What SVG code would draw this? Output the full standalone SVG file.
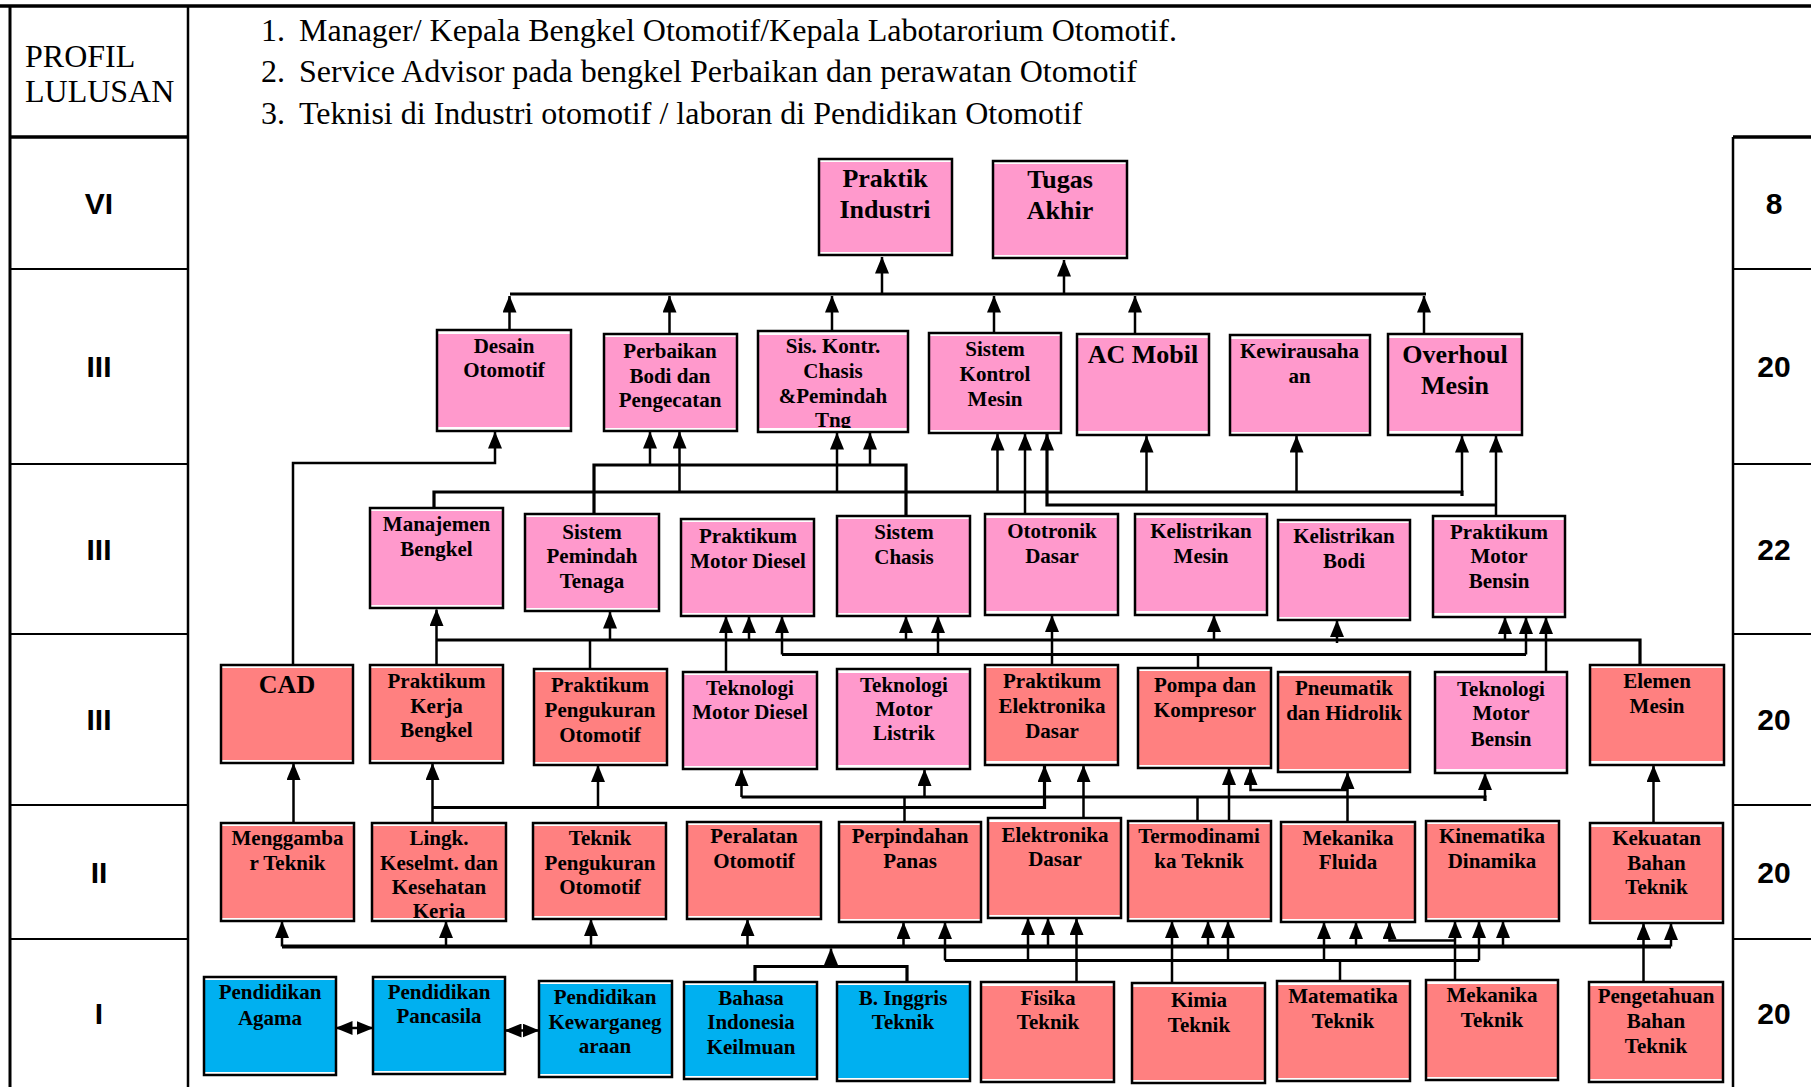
<svg xmlns="http://www.w3.org/2000/svg" width="1811" height="1087" viewBox="0 0 1811 1087">
<defs>
<style>
.tbl{stroke:#000;fill:none}
.prof{font-family:"Liberation Serif","Times New Roman",serif;font-size:32px;fill:#000}
.row{font-family:"Liberation Sans",Arial,sans-serif;font-weight:bold;font-size:30px;text-anchor:middle;fill:#000}
.n text{font-family:"Liberation Serif","Times New Roman",serif;font-weight:bold;font-size:21px;text-anchor:middle;fill:#000}
.n text.big{font-size:26px}
.n rect{stroke:#000;stroke-width:2.5}
.pink{fill:url(#gPink)}
.sal{fill:url(#gSal)}
.blue{fill:url(#gBlue)}
.c path{stroke:#000;stroke-width:2.5;fill:none}
.c path.a{marker-end:url(#ah)}
.c path.d{marker-start:url(#ah);marker-end:url(#ah)}
.c path.bus{stroke-width:3.2}
</style>
<linearGradient id="gPink" x1="0" y1="0" x2="0" y2="1">
<stop offset="0" stop-color="#fff"/><stop offset="0.035" stop-color="#fff"/><stop offset="0.035" stop-color="#FF99CC"/><stop offset="0.965" stop-color="#FF99CC"/><stop offset="0.965" stop-color="#fff"/><stop offset="1" stop-color="#fff"/>
</linearGradient>
<linearGradient id="gSal" x1="0" y1="0" x2="0" y2="1">
<stop offset="0" stop-color="#fff"/><stop offset="0.035" stop-color="#fff"/><stop offset="0.035" stop-color="#FF8080"/><stop offset="0.965" stop-color="#FF8080"/><stop offset="0.965" stop-color="#fff"/><stop offset="1" stop-color="#fff"/>
</linearGradient>
<linearGradient id="gBlue" x1="0" y1="0" x2="0" y2="1">
<stop offset="0" stop-color="#fff"/><stop offset="0.035" stop-color="#fff"/><stop offset="0.035" stop-color="#00B0F0"/><stop offset="0.965" stop-color="#00B0F0"/><stop offset="0.965" stop-color="#fff"/><stop offset="1" stop-color="#fff"/>
</linearGradient>
<marker id="ah" markerUnits="userSpaceOnUse" markerWidth="17" markerHeight="14" refX="16.5" refY="7" orient="auto-start-reverse">
<path d="M0,0 L17,7 L0,14 z" fill="#000"/>
</marker>
<clipPath id="clipSK"><rect x="758" y="331" width="150" height="97"/></clipPath>
<clipPath id="clipLK"><rect x="372" y="823" width="134" height="95"/></clipPath>
</defs>
<rect x="0" y="0" width="1811" height="1087" fill="#fff"/>

<g id="table">
<path class="tbl" stroke-width="3.5" d="M0,6 H1811"/>
<path class="tbl" stroke-width="3" d="M10,6 V1087"/>
<path class="tbl" stroke-width="2.5" d="M188,6 V1087"/>
<path class="tbl" stroke-width="2.5" d="M1733,137 V1087"/>
<path class="tbl" stroke-width="3.5" d="M10,137 H188 M1733,137 H1811"/>
<path class="tbl" stroke-width="2" d="M10,269 H188 M10,464 H188 M10,634 H188 M10,805 H188 M10,939 H188 M1733,269 H1811 M1733,464 H1811 M1733,634 H1811 M1733,805 H1811 M1733,939 H1811"/>
<text class="prof" x="25" y="67">PROFIL</text>
<text class="prof" x="25" y="102">LULUSAN</text>
<text class="prof" x="261" y="41">1.</text>
<text class="prof" x="299" y="41">Manager/ Kepala Bengkel Otomotif/Kepala Labotarorium Otomotif.</text>
<text class="prof" x="261" y="82">2.</text>
<text class="prof" x="299" y="82">Service Advisor pada bengkel Perbaikan dan perawatan Otomotif</text>
<text class="prof" x="261" y="124">3.</text>
<text class="prof" x="299" y="124">Teknisi di Industri otomotif / laboran di Pendidikan Otomotif</text>
<text class="row" x="99" y="214">VI</text>
<text class="row" x="99" y="377">III</text>
<text class="row" x="99" y="560">III</text>
<text class="row" x="99" y="730">III</text>
<text class="row" x="99" y="883">II</text>
<text class="row" x="99" y="1024">I</text>
<text class="row" x="1774" y="214">8</text>
<text class="row" x="1774" y="377">20</text>
<text class="row" x="1774" y="560">22</text>
<text class="row" x="1774" y="730">20</text>
<text class="row" x="1774" y="883">20</text>
<text class="row" x="1774" y="1024">20</text>
</g>

<g id="connectors" class="c">
<path class="bus" d="M510,294 H1426"/>
<path class="a" d="M882,294 V257"/>
<path class="a" d="M1064,294 V260"/>
<path class="a" d="M509.5,330 V296"/>
<path class="a" d="M669.5,334 V296"/>
<path class="a" d="M832,331 V296"/>
<path class="a" d="M994,333 V296"/>
<path class="a" d="M1135,334 V296"/>
<path class="a" d="M1424,334 V296"/>

<path class="a" d="M293,665 V463 H495 V432"/>
<path class="bus" d="M594,514 V465 H906 V516"/>
<path class="a" d="M650,465 V432"/>
<path class="a" d="M870,465 V433"/>
<path class="bus" d="M434,508 V492 H1462 V496"/>
<path class="a" d="M679.5,492 V432"/>
<path class="a" d="M837,492 V433"/>
<path class="a" d="M997.5,492 V434"/>
<path class="a" d="M1146.5,492 V436"/>
<path class="a" d="M1296.5,492 V436"/>
<path class="a" d="M1462,492 V436"/>
<path class="a" d="M1025,514 V434"/>
<path class="a" d="M1496,516 V436"/>
<path class="a bus" d="M1496,505 H1047 V434"/>

<path class="a" d="M436.5,665 V609.5"/>
<path class="bus" d="M436.5,640 H1640 V665"/>
<path d="M590,669 V640"/>
<path class="a" d="M610,640 V612"/>
<path class="a" d="M749,640 V616.5"/>
<path class="a" d="M906,640 V616.5"/>
<path class="a" d="M1214,640 V615.5"/>
<path class="a" d="M1337,643 V620.5"/>
<path class="a" d="M1505,640 V617.5"/>
<path class="a" d="M726,672 V616.5"/>
<path class="a" d="M1052,665 V615.5"/>
<path class="a" d="M1546,672 V617.5"/>
<path class="bus" d="M782,654.5 H1526"/>
<path d="M1198,668 V654.5"/>
<path class="a" d="M782,654.5 V616.5"/>
<path class="a" d="M938,654.5 V616.5"/>
<path class="a" d="M1526,654.5 V617.5"/>

<path class="a" d="M293.5,823 V763.5"/>
<path class="a" d="M432.5,823 V763.5"/>
<path class="a bus" d="M432.5,807.5 H1044.5 V765.5"/>
<path class="a" d="M598,807.5 V765.5"/>
<path class="bus" d="M741.5,797 H1485 V801"/>
<path class="a" d="M741.5,797 V769.5"/>
<path class="a" d="M924.5,797 V769.5"/>
<path class="a" d="M1485,797 V773.5"/>
<path d="M904.5,822 V797"/>
<path d="M1197.5,821 V797"/>
<path class="a" d="M1083.5,818 V765.5"/>
<path class="a" d="M1229,821 V768.5"/>
<path class="a" d="M1347.5,822 V772.5"/>
<path class="a" d="M1347.5,790 H1250.5 V768.5"/>
<path class="a" d="M1653.5,823 V765.5"/>

<path class="bus" d="M282,946.5 H1671" style="stroke-width:3.8"/>
<path class="a" d="M282,946.5 V921.5"/>
<path class="a" d="M446,946.5 V921.5"/>
<path class="a" d="M591,946.5 V919.5"/>
<path class="a" d="M747.5,946.5 V919.5"/>
<path class="a" d="M903.5,946.5 V922.5"/>
<path class="a" d="M1048,946.5 V918.5"/>
<path class="a" d="M1208,946.5 V921.5"/>
<path class="a" d="M1356,946.5 V922.5"/>
<path class="a" d="M1503,946.5 V921.5"/>
<path class="a" d="M1671,946.5 V923.5"/>
<path class="bus" d="M755,982 V966.5 H907 V982"/>
<path class="a" d="M831,966.5 V948.5"/>
<path class="bus" d="M945,960.5 H1479"/>
<path class="a" d="M945,960.5 V922.5"/>
<path class="a" d="M1028,960.5 V918.5"/>
<path class="a" d="M1228,960.5 V921.5"/>
<path class="a" d="M1324,960.5 V922.5"/>
<path class="a" d="M1479,960.5 V921.5"/>
<path d="M1340,981 V960.5"/>
<path class="a" d="M1076.5,982 V918.5"/>
<path class="a" d="M1172,983 V921.5"/>
<path class="a" d="M1455,980 V921.5"/>
<path class="a" d="M1455,940.5 H1389.5 V922.5"/>
<path class="a" d="M1643.5,982 V923.5"/>
<path class="d" d="M336,1028 H373"/>
<path class="d" d="M505,1030.5 H539"/>
</g>

<g id="n-praktik-industri" class="n"><rect class="pink" x="819" y="159" width="133" height="96"/><text class="big"><tspan x="885" y="187">Praktik</tspan><tspan x="885" y="218">Industri</tspan></text></g>
<g id="n-tugas-akhir" class="n"><rect class="pink" x="993" y="161" width="134" height="97"/><text class="big"><tspan x="1060" y="188">Tugas</tspan><tspan x="1060" y="219">Akhir</tspan></text></g>

<g id="n-desain-otomotif" class="n"><rect class="pink" x="437" y="330" width="134" height="101"/><text><tspan x="504" y="353">Desain</tspan><tspan x="504" y="377">Otomotif</tspan></text></g>
<g id="n-perbaikan-bodi" class="n"><rect class="pink" x="604" y="334" width="133" height="97"/><text><tspan x="670" y="358">Perbaikan</tspan><tspan x="670" y="383">Bodi dan</tspan><tspan x="670" y="407">Pengecatan</tspan></text></g>
<g id="n-sis-kontr-chasis" class="n"><rect class="pink" x="758" y="331" width="150" height="101"/><text clip-path="url(#clipSK)"><tspan x="833" y="353">Sis. Kontr.</tspan><tspan x="833" y="378">Chasis</tspan><tspan x="833" y="403">&amp;Pemindah</tspan><tspan x="833" y="427">Tng</tspan></text></g>
<g id="n-sistem-kontrol-mesin" class="n"><rect class="pink" x="929" y="333" width="132" height="100"/><text><tspan x="995" y="356">Sistem</tspan><tspan x="995" y="381">Kontrol</tspan><tspan x="995" y="406">Mesin</tspan></text></g>
<g id="n-ac-mobil" class="n"><rect class="pink" x="1077" y="334" width="132" height="101"/><text class="big"><tspan x="1143" y="363">AC Mobil</tspan></text></g>
<g id="n-kewirausahaan" class="n"><rect class="pink" x="1230" y="335" width="140" height="100"/><text><tspan x="1299.5" y="358">Kewirausaha</tspan><tspan x="1299.5" y="383">an</tspan></text></g>
<g id="n-overhoul-mesin" class="n"><rect class="pink" x="1388" y="334" width="134" height="101"/><text class="big"><tspan x="1455" y="363">Overhoul</tspan><tspan x="1455" y="394">Mesin</tspan></text></g>

<g id="n-manajemen-bengkel" class="n"><rect class="pink" x="370" y="508" width="133" height="100"/><text><tspan x="436.5" y="531">Manajemen</tspan><tspan x="436.5" y="556">Bengkel</tspan></text></g>
<g id="n-sistem-pemindah-tenaga" class="n"><rect class="pink" x="525" y="514" width="134" height="97"/><text><tspan x="592" y="539">Sistem</tspan><tspan x="592" y="563">Pemindah</tspan><tspan x="592" y="588">Tenaga</tspan></text></g>
<g id="n-praktikum-motor-diesel" class="n"><rect class="pink" x="681" y="519" width="133" height="97"/><text><tspan x="748" y="543">Praktikum</tspan><tspan x="748" y="568">Motor Diesel</tspan></text></g>
<g id="n-sistem-chasis" class="n"><rect class="pink" x="837" y="516" width="133" height="100"/><text><tspan x="904" y="539">Sistem</tspan><tspan x="904" y="564">Chasis</tspan></text></g>
<g id="n-ototronik-dasar" class="n"><rect class="pink" x="985" y="514" width="133" height="101"/><text><tspan x="1052" y="538">Ototronik</tspan><tspan x="1052" y="563">Dasar</tspan></text></g>
<g id="n-kelistrikan-mesin" class="n"><rect class="pink" x="1135" y="514" width="132" height="101"/><text><tspan x="1201" y="538">Kelistrikan</tspan><tspan x="1201" y="563">Mesin</tspan></text></g>
<g id="n-kelistrikan-bodi" class="n"><rect class="pink" x="1278" y="520" width="132" height="100"/><text><tspan x="1344" y="543">Kelistrikan</tspan><tspan x="1344" y="568">Bodi</tspan></text></g>
<g id="n-praktikum-motor-bensin" class="n"><rect class="pink" x="1433" y="516" width="132" height="101"/><text><tspan x="1499" y="539">Praktikum</tspan><tspan x="1499" y="563">Motor</tspan><tspan x="1499" y="588">Bensin</tspan></text></g>

<g id="n-cad" class="n"><rect class="sal" x="221" y="665" width="132" height="98"/><text class="big"><tspan x="287" y="693">CAD</tspan></text></g>
<g id="n-praktikum-kerja-bengkel" class="n"><rect class="sal" x="370" y="665" width="133" height="98"/><text><tspan x="436.5" y="688">Praktikum</tspan><tspan x="436.5" y="713">Kerja</tspan><tspan x="436.5" y="737">Bengkel</tspan></text></g>
<g id="n-praktikum-pengukuran-otomotif" class="n"><rect class="sal" x="534" y="669" width="133" height="96"/><text><tspan x="600" y="692">Praktikum</tspan><tspan x="600" y="717">Pengukuran</tspan><tspan x="600" y="742">Otomotif</tspan></text></g>
<g id="n-teknologi-motor-diesel" class="n"><rect class="pink" x="683" y="672" width="134" height="97"/><text><tspan x="750" y="695">Teknologi</tspan><tspan x="750" y="719">Motor Diesel</tspan></text></g>
<g id="n-teknologi-motor-listrik" class="n"><rect class="pink" x="837" y="669" width="133" height="100"/><text><tspan x="904" y="692">Teknologi</tspan><tspan x="904" y="716">Motor</tspan><tspan x="904" y="740">Listrik</tspan></text></g>
<g id="n-praktikum-elektronika-dasar" class="n"><rect class="sal" x="985" y="665" width="133" height="100"/><text><tspan x="1052" y="688">Praktikum</tspan><tspan x="1052" y="713">Elektronika</tspan><tspan x="1052" y="738">Dasar</tspan></text></g>
<g id="n-pompa-dan-kompresor" class="n"><rect class="sal" x="1138" y="668" width="133" height="100"/><text><tspan x="1205" y="692">Pompa dan</tspan><tspan x="1205" y="717">Kompresor</tspan></text></g>
<g id="n-pneumatik-dan-hidrolik" class="n"><rect class="sal" x="1278" y="672" width="132" height="100"/><text><tspan x="1344" y="695">Pneumatik</tspan><tspan x="1344" y="720">dan Hidrolik</tspan></text></g>
<g id="n-teknologi-motor-bensin" class="n"><rect class="pink" x="1435" y="672" width="132" height="101"/><text><tspan x="1501" y="696">Teknologi</tspan><tspan x="1501" y="720">Motor</tspan><tspan x="1501" y="746">Bensin</tspan></text></g>
<g id="n-elemen-mesin" class="n"><rect class="sal" x="1590" y="665" width="134" height="100"/><text><tspan x="1657" y="688">Elemen</tspan><tspan x="1657" y="713">Mesin</tspan></text></g>

<g id="n-menggambar-teknik" class="n"><rect class="sal" x="221" y="823" width="133" height="98"/><text><tspan x="287.5" y="845">Menggamba</tspan><tspan x="287.5" y="870">r Teknik</tspan></text></g>
<g id="n-lingk-keselmt" class="n"><rect class="sal" x="372" y="823" width="134" height="98"/><text clip-path="url(#clipLK)"><tspan x="439" y="845">Lingk.</tspan><tspan x="439" y="870">Keselmt. dan</tspan><tspan x="439" y="894">Kesehatan</tspan><tspan x="439" y="918">Kerja</tspan></text></g>
<g id="n-teknik-pengukuran-otomotif" class="n"><rect class="sal" x="533" y="823" width="133" height="96"/><text><tspan x="600" y="845">Teknik</tspan><tspan x="600" y="870">Pengukuran</tspan><tspan x="600" y="894">Otomotif</tspan></text></g>
<g id="n-peralatan-otomotif" class="n"><rect class="sal" x="687" y="822" width="134" height="97"/><text><tspan x="754" y="843">Peralatan</tspan><tspan x="754" y="868">Otomotif</tspan></text></g>
<g id="n-perpindahan-panas" class="n"><rect class="sal" x="839" y="822" width="142" height="100"/><text><tspan x="910" y="843">Perpindahan</tspan><tspan x="910" y="868">Panas</tspan></text></g>
<g id="n-elektronika-dasar" class="n"><rect class="sal" x="988" y="818" width="133" height="100"/><text><tspan x="1055" y="842">Elektronika</tspan><tspan x="1055" y="866">Dasar</tspan></text></g>
<g id="n-termodinamika-teknik" class="n"><rect class="sal" x="1128" y="821" width="143" height="100"/><text><tspan x="1199" y="843">Termodinami</tspan><tspan x="1199" y="868">ka Teknik</tspan></text></g>
<g id="n-mekanika-fluida" class="n"><rect class="sal" x="1281" y="822" width="134" height="100"/><text><tspan x="1348" y="845">Mekanika</tspan><tspan x="1348" y="869">Fluida</tspan></text></g>
<g id="n-kinematika-dinamika" class="n"><rect class="sal" x="1426" y="821" width="133" height="100"/><text><tspan x="1492" y="843">Kinematika</tspan><tspan x="1492" y="868">Dinamika</tspan></text></g>
<g id="n-kekuatan-bahan-teknik" class="n"><rect class="sal" x="1590" y="823" width="133" height="100"/><text><tspan x="1656.5" y="845">Kekuatan</tspan><tspan x="1656.5" y="870">Bahan</tspan><tspan x="1656.5" y="894">Teknik</tspan></text></g>

<g id="n-pendidikan-agama" class="n"><rect class="blue" x="204" y="977" width="132" height="98"/><text><tspan x="270" y="999">Pendidikan</tspan><tspan x="270" y="1025">Agama</tspan></text></g>
<g id="n-pendidikan-pancasila" class="n"><rect class="blue" x="373" y="977" width="132" height="97"/><text><tspan x="439" y="999">Pendidikan</tspan><tspan x="439" y="1023">Pancasila</tspan></text></g>
<g id="n-pendidikan-kewarganegaraan" class="n"><rect class="blue" x="539" y="981" width="133" height="96"/><text><tspan x="605" y="1004">Pendidikan</tspan><tspan x="605" y="1029">Kewarganeg</tspan><tspan x="605" y="1053">araan</tspan></text></g>
<g id="n-bahasa-indonesia" class="n"><rect class="blue" x="684" y="982" width="133" height="97"/><text><tspan x="751" y="1005">Bahasa</tspan><tspan x="751" y="1029">Indonesia</tspan><tspan x="751" y="1054">Keilmuan</tspan></text></g>
<g id="n-b-inggris-teknik" class="n"><rect class="blue" x="837" y="982" width="133" height="99"/><text><tspan x="903" y="1005">B. Inggris</tspan><tspan x="903" y="1029">Teknik</tspan></text></g>
<g id="n-fisika-teknik" class="n"><rect class="sal" x="981" y="982" width="133" height="100"/><text><tspan x="1048" y="1005">Fisika</tspan><tspan x="1048" y="1029">Teknik</tspan></text></g>
<g id="n-kimia-teknik" class="n"><rect class="sal" x="1132" y="983" width="133" height="100"/><text><tspan x="1199" y="1007">Kimia</tspan><tspan x="1199" y="1032">Teknik</tspan></text></g>
<g id="n-matematika-teknik" class="n"><rect class="sal" x="1277" y="981" width="133" height="100"/><text><tspan x="1343" y="1003">Matematika</tspan><tspan x="1343" y="1028">Teknik</tspan></text></g>
<g id="n-mekanika-teknik" class="n"><rect class="sal" x="1426" y="980" width="132" height="100"/><text><tspan x="1492" y="1002">Mekanika</tspan><tspan x="1492" y="1027">Teknik</tspan></text></g>
<g id="n-pengetahuan-bahan-teknik" class="n"><rect class="sal" x="1589" y="982" width="134" height="100"/><text><tspan x="1656" y="1003">Pengetahuan</tspan><tspan x="1656" y="1028">Bahan</tspan><tspan x="1656" y="1053">Teknik</tspan></text></g>
</svg>
